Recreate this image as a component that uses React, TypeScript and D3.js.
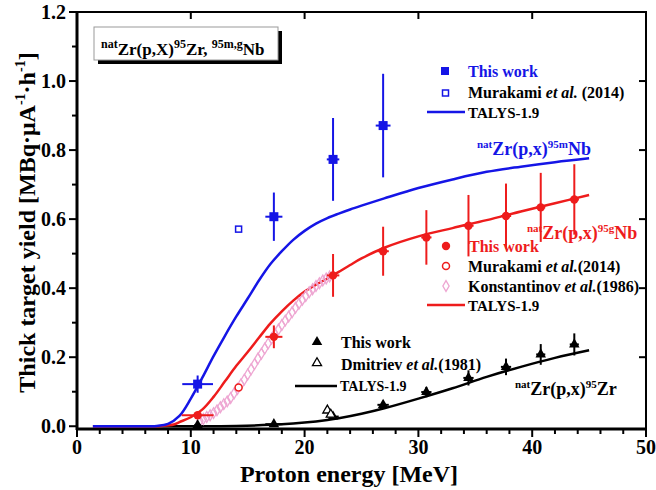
import React from "react";
import * as d3 from "d3";

// ---------- data ----------
const expE = [10.6, 17.3, 22.5, 26.9];
const expEHigh = [10.6, 17.3, 22.5, 26.9, 30.7, 34.4, 37.7, 40.75, 43.7];

// 95mNb
const mY = [0.122, 0.607, 0.773, 0.871];
const mYErr = [0.025, 0.07, 0.12, 0.15];
const mXErr = [1.35, 0.75, 0.55, 0.65];
const mMurakamiE = [14.2];
const mMurakamiY = [0.571];
const mTalysE = [1.4, 5, 7, 8, 9, 10, 11, 12, 13, 14, 15, 16, 17, 18, 19, 20, 21, 22, 23, 24, 25, 27, 30, 33, 36, 39, 42, 45];
const mTalysY = [0, 0, 0.001, 0.007, 0.03, 0.08, 0.14, 0.203, 0.262, 0.318, 0.37, 0.423, 0.47, 0.507, 0.54, 0.566, 0.587, 0.603, 0.616, 0.628, 0.639, 0.66, 0.69, 0.715, 0.737, 0.752, 0.765, 0.776];

// 95gNb
const gY = [0.032, 0.259, 0.437, 0.507, 0.547, 0.581, 0.609, 0.634, 0.657];
const gYErr = [0.006, 0.033, 0.062, 0.071, 0.079, 0.089, 0.094, 0.1, 0.102];
const gXErr = [1.4, 0.75, 0.55, 0.5, 0.45, 0.45, 0.45, 0.4, 0.4];
const gMurakamiE = [14.2];
const gMurakamiY = [0.112];
const konstE = [10.8, 11.1, 11.4, 11.7, 12.0, 12.3, 12.6, 12.9, 13.2, 13.5, 13.8, 14.1, 14.4, 14.7, 15.0, 15.3, 15.6, 15.9, 16.2, 16.5, 16.8, 17.1, 17.4, 17.7, 18.0, 18.3, 18.6, 18.9, 19.2, 19.5, 19.8, 20.1, 20.4, 20.7, 21.0, 21.3, 21.6, 21.9, 22.2];
const konstY = [0.015, 0.021, 0.027, 0.032, 0.038, 0.046, 0.055, 0.064, 0.072, 0.082, 0.095, 0.108, 0.121, 0.135, 0.15, 0.165, 0.18, 0.196, 0.21, 0.225, 0.24, 0.254, 0.268, 0.28, 0.293, 0.306, 0.318, 0.33, 0.343, 0.355, 0.366, 0.377, 0.388, 0.397, 0.406, 0.414, 0.422, 0.428, 0.434];
const gTalysE = [1.4, 6, 7.5, 8.5, 9, 10, 11, 12, 13, 14, 15, 16, 17, 18, 19, 20, 21, 22, 23, 24, 25, 27, 30, 33, 36, 39, 42, 45];
const gTalysY = [0, 0, 0.001, 0.005, 0.012, 0.026, 0.048, 0.085, 0.13, 0.175, 0.215, 0.257, 0.298, 0.333, 0.364, 0.39, 0.41, 0.428, 0.447, 0.467, 0.486, 0.517, 0.55, 0.574, 0.597, 0.622, 0.646, 0.67];

// 95Zr
const zY = [0.003, 0.006, 0.028, 0.062, 0.099, 0.14, 0.172, 0.208, 0.237];
const zYErr = [0.004, 0.005, 0.008, 0.012, 0.015, 0.022, 0.024, 0.03, 0.032];
const zXErr = [0.3, 0.75, 0.5, 0.5, 0.45, 0.45, 0.45, 0.4, 0.4];
const dmitrievE = [22.0, 22.3];
const dmitrievY = [0.046, 0.034];
const zTalysE = [1.4, 10, 14, 17, 19, 21, 22, 23, 25, 27, 30, 33, 36, 39, 42, 45];
const zTalysY = [0, 0, 0.001, 0.004, 0.008, 0.014, 0.018, 0.023, 0.036, 0.052, 0.08, 0.11, 0.143, 0.172, 0.198, 0.22];

const xTicks = [0, 10, 20, 30, 40, 50];
const yTicks = [0.0, 0.2, 0.4, 0.6, 0.8, 1.0, 1.2];

// ---------- style ----------
const BLUE = "#1515e6";
const RED = "#ee1c1c";
const PINK = "#eea6d2";
const BLACK = "#000";
const FONT = "'Liberation Serif','Times New Roman',serif";

const W = 656;
const H = 490;
const L = 77, R = 646, T = 12, B = 429;

export default function App() {
  const x = d3.scaleLinear().domain([0, 50]).range([L, R]);
  const y = d3.scaleLinear().domain([-0.008, 1.2]).range([B, T]);
  const line = d3.line<[number, number]>().x(d => x(d[0])).y(d => y(d[1])).curve(d3.curveCatmullRom.alpha(0.5));
  const zip = (a: number[], b: number[]) => a.map((v, i) => [v, b[i]] as [number, number]);

  const tri = d3.symbol().type(d3.symbolTriangle).size(48)()!;
  const triSmall = d3.symbol().type(d3.symbolTriangle).size(36)()!;
  const diamond = d3.symbol().type(d3.symbolDiamond).size(34)()!;

  const errBars = (es: number[], ys: number[], xe: number[], ye: number[], color: string, key: string) =>
    es.map((e, i) => (
      <g key={key + i} stroke={color} strokeWidth={2}>
        <line x1={x(e)} x2={x(e)} y1={y(ys[i] - ye[i])} y2={y(ys[i] + ye[i])} />
        <line x1={x(e - xe[i])} x2={x(e + xe[i])} y1={y(ys[i])} y2={y(ys[i])} />
      </g>
    ));

  const minorX = d3.range(0, 50.001, 2);
  const minorY = d3.range(0, 1.2001, 0.1);

  const sup = (t: string, size = 11) => (
    <tspan fontSize={size} dy={-7}>{t}</tspan>
  );
  const base = (t: string) => <tspan dy={7}>{t}</tspan>;

  return (
    <svg width={W} height={H} style={{ position: "absolute", left: 0, top: 0, background: "#fff" }} fontFamily={FONT} fontWeight="bold">
      {/* frame */}
      <rect x={L} y={T} width={R - L} height={B - T} fill="none" stroke="#000" strokeWidth={2} />
      <line x1={L} x2={L} y1={T} y2={B + 1} stroke="#000" strokeWidth={3} />
      <line x1={L - 1} x2={R} y1={B} y2={B} stroke="#000" strokeWidth={3} />

      {/* bottom axis ticks */}
      {minorX.map(v => (
        <line key={"mx" + v} x1={x(v)} x2={x(v)} y1={B} y2={B + (v % 10 === 0 ? 8 : 5)} stroke="#000" strokeWidth={2} />
      ))}
      {xTicks.slice(1, -1).map(v => (
        <line key={"tx" + v} x1={x(v)} x2={x(v)} y1={T} y2={T + 7} stroke="#000" strokeWidth={2} />
      ))}
      {xTicks.map(v => (
        <text key={"lx" + v} x={x(v)} y={454} textAnchor="middle" fontSize={20}>{v}</text>
      ))}

      {/* left axis ticks */}
      {minorY.map((v, i) => (
        <line key={"my" + i} x1={L - (i % 2 === 0 ? 8 : 5)} x2={L} y1={y(v)} y2={y(v)} stroke="#000" strokeWidth={2} />
      ))}
      {yTicks.slice(1, -1).map(v => (
        <line key={"ry" + v} x1={R - 7} x2={R} y1={y(v)} y2={y(v)} stroke="#000" strokeWidth={2} />
      ))}
      {yTicks.map(v => (
        <text key={"ly" + v} x={L - 11} y={y(v) + 7} textAnchor="end" fontSize={20}>{v.toFixed(1)}</text>
      ))}

      {/* axis titles */}
      <text x={349} y={482} textAnchor="middle" fontSize={24}>Proton energy [MeV]</text>
      <text transform={`translate(35,${(T + B) / 2 + 2}) rotate(-90)`} textAnchor="middle" fontSize={24}>
        Thick target yield [MBq·μA<tspan fontSize={14} dy={-10}>-1</tspan><tspan dy={10}>·h</tspan><tspan fontSize={14} dy={-10}>-1</tspan><tspan dy={10}>]</tspan>
      </text>

      {/* title box */}
      <rect x={98} y={31} width={184} height={33} fill="#000" />
      <rect x={94} y={27} width={184} height={33} fill="#fff" stroke="#999" strokeWidth={1} />
      <text x={101} y={55} fontSize={17}>
        {sup("nat", 12)}{base("Zr(p,X)")}{sup("95", 12)}{base("Zr, ")}{sup("95m,g", 12)}{base("Nb")}
      </text>

      {/* TALYS curves */}
      <path d={line(zip(zTalysE, zTalysY))!} fill="none" stroke={BLACK} strokeWidth={2.5} />
      <path d={line(zip(gTalysE, gTalysY))!} fill="none" stroke={RED} strokeWidth={2.5} />
      <path d={line(zip(mTalysE, mTalysY))!} fill="none" stroke={BLUE} strokeWidth={2.5} />

      {/* Konstantinov */}
      {konstE.map((e, i) => (
        <path key={"k" + i} d={diamond} transform={`translate(${x(e)},${y(konstY[i])})`} fill="none" stroke={PINK} strokeWidth={1.3} />
      ))}

      {/* 95Zr */}
      {errBars(expEHigh, zY, zXErr, zYErr, BLACK, "ze")}
      {expEHigh.map((e, i) => (
        <path key={"zt" + i} d={tri} transform={`translate(${x(e)},${y(zY[i])})`} fill={BLACK} />
      ))}
      {dmitrievE.map((e, i) => (
        <path key={"dm" + i} d={triSmall} transform={`translate(${x(e)},${y(dmitrievY[i])})`} fill="#fff" stroke={BLACK} strokeWidth={1.3} />
      ))}

      {/* 95gNb */}
      {errBars(expEHigh, gY, gXErr, gYErr, RED, "ge")}
      {expEHigh.map((e, i) => (
        <circle key={"gc" + i} cx={x(e)} cy={y(gY[i])} r={4.2} fill={RED} />
      ))}
      {gMurakamiE.map((e, i) => (
        <circle key={"gm" + i} cx={x(e)} cy={y(gMurakamiY[i])} r={3.5} fill="#fff" stroke={RED} strokeWidth={1.5} />
      ))}

      {/* 95mNb */}
      {errBars(expE, mY, mXErr, mYErr, BLUE, "me")}
      {expE.map((e, i) => (
        <rect key={"ms" + i} x={x(e) - 4.5} y={y(mY[i]) - 4.5} width={9} height={9} fill={BLUE} />
      ))}
      {mMurakamiE.map((e, i) => (
        <rect key={"mm" + i} x={x(e) - 3} y={y(mMurakamiY[i]) - 3} width={6} height={6} fill="#fff" stroke={BLUE} strokeWidth={1.5} />
      ))}

      {/* reaction labels */}
      <text x={477} y={155} fontSize={18} fill={BLUE}>
        {sup("nat")}{base("Zr(p,x)")}{sup("95m")}{base("Nb")}
      </text>
      <text x={527} y={239} fontSize={18} fill={RED}>
        {sup("nat")}{base("Zr(p,x)")}{sup("95g")}{base("Nb")}
      </text>
      <text x={515} y={395} fontSize={18} fill={BLACK}>
        {sup("nat")}{base("Zr(p,x)")}{sup("95")}{base("Zr")}
      </text>

      {/* blue legend */}
      <rect x={441} y={67} width={8} height={8} fill={BLUE} />
      <text x={468} y={77} fontSize={16} fill={BLUE}>This work</text>
      <rect x={442.5} y={90} width={6} height={6} fill="#fff" stroke={BLUE} strokeWidth={1.5} />
      <text x={468} y={98} fontSize={16}>Murakami <tspan fontStyle="italic">et al.</tspan> (2014)</text>
      <line x1={427} x2={465} y1={112} y2={112} stroke={BLUE} strokeWidth={2.5} />
      <text x={468} y={118} fontSize={15}>TALYS-1.9</text>

      {/* red legend */}
      <circle cx={446} cy={246} r={4.2} fill={RED} />
      <text x={469} y={252} fontSize={16} fill={RED}>This work</text>
      <circle cx={446} cy={266} r={3.5} fill="#fff" stroke={RED} strokeWidth={1.5} />
      <text x={468} y={272} fontSize={16}>Murakami <tspan fontStyle="italic">et al.</tspan>(2014)</text>
      <path d={diamond} transform="translate(446,286)" fill="none" stroke={PINK} strokeWidth={1.3} />
      <text x={468} y={292} fontSize={16}>Konstantinov <tspan fontStyle="italic">et al.</tspan>(1986)</text>
      <line x1={427} x2={465} y1={305} y2={305} stroke={RED} strokeWidth={2.5} />
      <text x={468} y={311} fontSize={15}>TALYS-1.9</text>

      {/* black legend */}
      <path d={tri} transform="translate(317,342)" fill={BLACK} />
      <text x={341} y={348} fontSize={16}>This work</text>
      <path d={triSmall} transform="translate(317,363)" fill="#fff" stroke={BLACK} strokeWidth={1.3} />
      <text x={341} y={370} fontSize={16}>Dmitriev <tspan fontStyle="italic">et al.</tspan>(1981)</text>
      <line x1={295} x2={337} y1={386} y2={386} stroke={BLACK} strokeWidth={2.5} />
      <text x={340} y={391} fontSize={14}>TALYS-1.9</text>
    </svg>
  );
}
